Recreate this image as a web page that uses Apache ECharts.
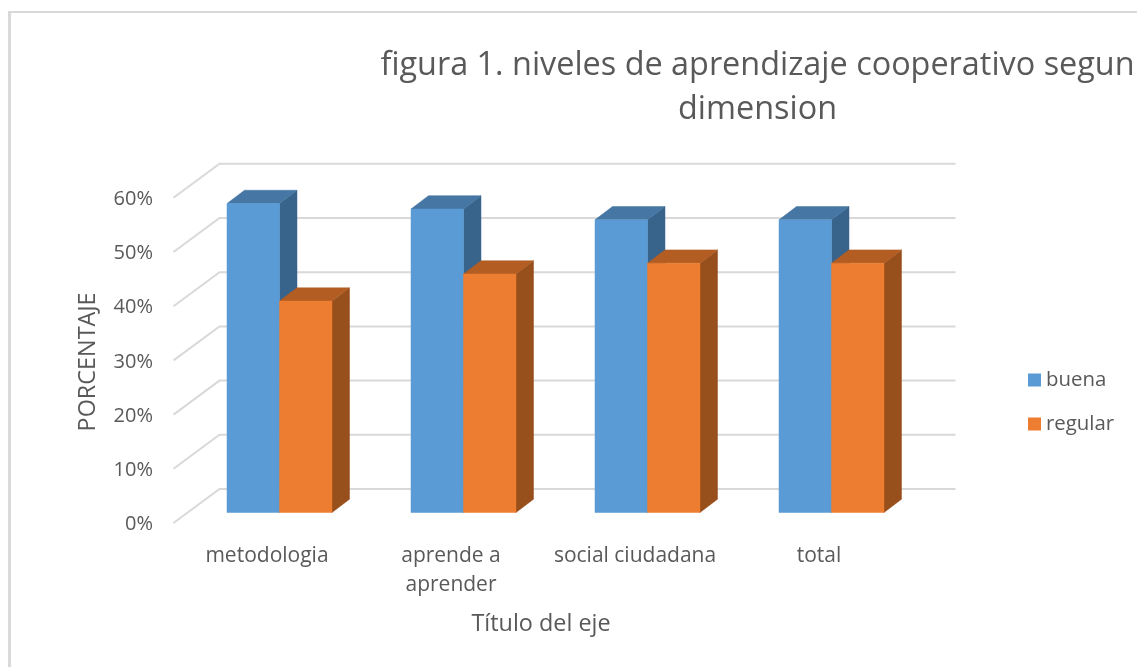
<!DOCTYPE html>
<html>
<head>
<meta charset="utf-8">
<title>figura 1</title>
<script src="https://cdn.jsdelivr.net/npm/echarts@6/dist/echarts.min.js"></script>
<style>
  html, body { margin: 0; padding: 0; background: #fff; }
  #chart { width: 1137px; height: 667px; }
</style>
</head>
<body>
<div id="chart"></div>
<script>
var categories = ['metodologia', 'aprende a\naprender', 'social ciudadana', 'total'];
var buena = [57, 56, 54, 54];
var regular = [39, 44, 46, 46];
var yTicks = [0, 10, 20, 30, 40, 50, 60];

var barRatio = 0.2853;
var depthX = 17.5, depthY = 13.3;   // bar side faces
var wallX = 32, wallY = 23.5;       // bar plane to back wall
var floorX = 14, floorY = 10.5;     // bar plane to front edge of floor
var font = '"Open Sans", sans-serif';
var textColor = '#595959';

function poly(points, color) {
    return { type: 'polygon', shape: { points: points }, style: { fill: color, stroke: color, lineWidth: 0.5 } };
}

function bar3d(side, front, top, shade) {
    return function (params, api) {
        var p = api.coord([api.value(0), api.value(1)]);
        var base = api.coord([api.value(0), 0])[1];
        var w = api.size([1, 0])[0] * barRatio;
        var x0 = side < 0 ? p[0] - w : p[0];
        var x1 = x0 + w;
        var y = p[1];
        return {
            type: 'group',
            children: [
                poly([[x1, y], [x1 + depthX, y - depthY], [x1 + depthX, base - depthY], [x1, base]], shade),
                poly([[x0, y], [x0 + depthX, y - depthY], [x1 + depthX, y - depthY], [x1, y]], top),
                poly([[x0, y], [x1, y], [x1, base], [x0, base]], front)
            ]
        };
    };
}

function wallLine(params, api) {
    var cs = params.coordSys;
    var y = api.coord([0, api.value(0)])[1];
    return {
        type: 'polyline',
        shape: { points: [
            [cs.x - floorX, y + floorY],
            [cs.x + wallX, y - wallY],
            [cs.x + cs.width + wallX, y - wallY]
        ] },
        style: { fill: 'none', stroke: '#d9d9d9', lineWidth: 2 }
    };
}

function pairs(values) {
    return values.map(function (v, i) { return [i, v]; });
}

var myChart = echarts.init(document.getElementById('chart'));

var option = {
    animation: false,
    backgroundColor: '#fff',
    textStyle: { fontFamily: font },
    graphic: [
        { type: 'rect', shape: { x: 8, y: 11, width: 1129, height: 2 }, style: { fill: '#d9d9d9' } },
        { type: 'rect', shape: { x: 8, y: 11, width: 3, height: 656 }, style: { fill: '#d9d9d9' } }
    ],
    title: {
        text: 'figura 1. niveles de aprendizaje cooperativo segun\ndimension',
        left: 752.5,
        top: 39,
        textAlign: 'center',
        textStyle: { fontFamily: font, fontWeight: 'normal', fontSize: 32.4, lineHeight: 44, color: textColor }
    },
    legend: {
        data: ['buena', 'regular'],
        orient: 'vertical',
        left: 1023,
        top: 365,
        icon: 'rect',
        itemWidth: 13,
        itemHeight: 13,
        itemGap: 24,
        textStyle: { fontFamily: font, fontSize: 20.4, color: textColor }
    },
    grid: [
        { left: 187.5, width: 736, top: 187.3, height: 325.2 },
        { left: 175, width: 736, top: 199.3, height: 325.2 }
    ],
    xAxis: [
        { type: 'category', gridIndex: 0, data: categories, show: false },
        {
            type: 'category',
            gridIndex: 1,
            data: categories,
            name: 'Título del eje',
            nameLocation: 'middle',
            nameGap: 88.5,
            nameTextStyle: { fontSize: 23.4, color: textColor, fontFamily: font, padding: [0, 4, 0, 0] },
            axisLine: { show: false },
            axisTick: { show: false },
            axisLabel: { margin: 17.5, fontSize: 21, lineHeight: 29, color: textColor, fontFamily: font, interval: 0 }
        }
    ],
    yAxis: [
        { type: 'value', gridIndex: 0, min: 0, max: 60, interval: 10, show: false },
        {
            type: 'value',
            gridIndex: 1,
            min: 0,
            max: 60,
            interval: 10,
            name: 'PORCENTAJE',
            nameLocation: 'middle',
            nameRotate: 90,
            nameGap: 75,
            nameTextStyle: { fontSize: 23.4, color: textColor, fontFamily: font },
            axisLine: { show: false },
            axisTick: { show: false },
            splitLine: { show: false },
            axisLabel: { margin: 22, fontSize: 20, color: textColor, fontFamily: font, formatter: '{value}%' }
        }
    ],
    series: [
        { type: 'custom', name: 'grid', silent: true, renderItem: wallLine, data: yTicks.map(function (t) { return [t]; }), encode: { y: 0 }, z: 1 },
        { type: 'custom', name: 'buena', silent: true, renderItem: bar3d(-1, '#5b9bd5', '#4676a3', '#38648c'), data: pairs(buena), encode: { x: 0, y: 1 }, itemStyle: { color: '#5b9bd5' }, z: 2 },
        { type: 'custom', name: 'regular', silent: true, renderItem: bar3d(1, '#ed7d31', '#b35d22', '#974f1c'), data: pairs(regular), encode: { x: 0, y: 1 }, itemStyle: { color: '#ed7d31' }, z: 3 }
    ]
};

myChart.setOption(option);
</script>
</body>
</html>
